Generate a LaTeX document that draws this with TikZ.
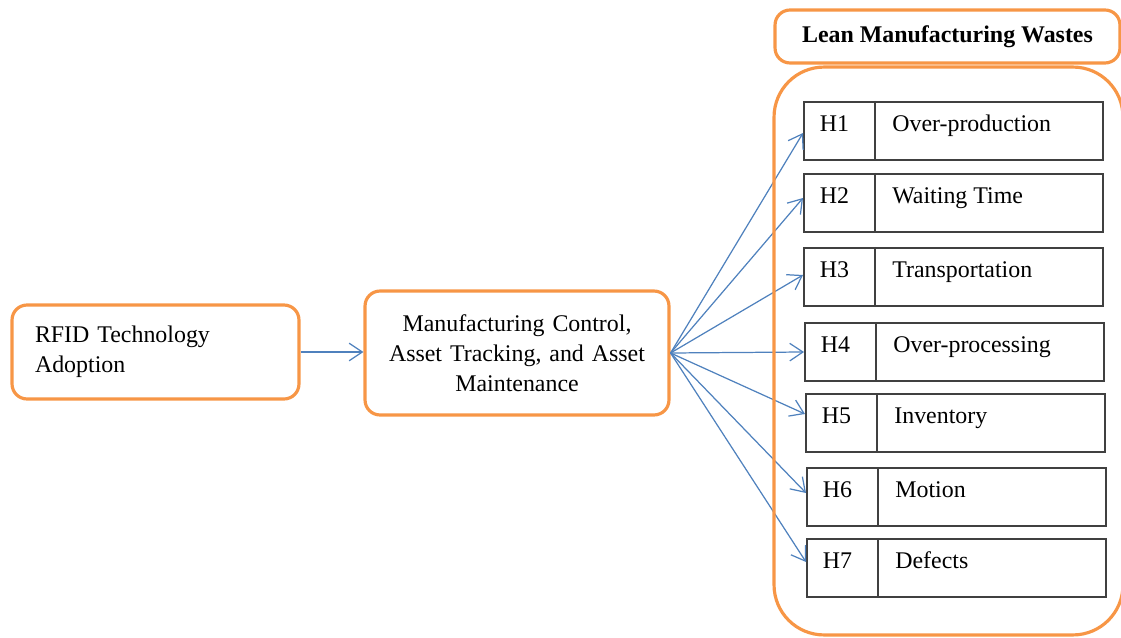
\documentclass[tikz,border=0pt]{standalone}
\usepackage{fontspec}
\setmainfont{Liberation Serif}
\usetikzlibrary{arrows.meta,calc}
\definecolor{lorange}{HTML}{F79646}
\definecolor{lblue}{HTML}{4F81BD}
\definecolor{dgray}{HTML}{404040}
\tikzset{
  obox/.style={draw=lorange, line width=1.8pt, rounded corners=0.3cm, fill=white},
  hbox/.style={draw=dgray, line width=0.9pt, minimum width=5.98cm, minimum height=1.16cm, inner sep=0pt, anchor=north west},
  conn/.style={draw=lblue, line width=0.7pt, -{Straight Barb[length=7.5pt,width=10pt]}},
  txt/.style={font=\fontsize{13.6}{17}\selectfont},
  divider/.style={draw=dgray, line width=0.9pt},
}
\begin{document}
\begin{tikzpicture}[x=0.02cm, y=-0.02cm]
\useasboundingbox (0,0) rectangle (1121,638);
\clip (0,0) rectangle (1121,638);
\node[obox, txt, text width=4.82cm, inner xsep=0.46cm, inner ysep=0pt, minimum height=1.88cm, align=left] (rfid) at (155.5,352) {RFID Technology\\Adoption};
\node[obox, txt, text width=5.5cm, inner xsep=0.29cm, inner ysep=0pt, minimum height=2.48cm, align=center] (mid) at (517,353) {Manufacturing Control,\\Asset Tracking, and Asset\\Maintenance};
\draw[conn] (rfid.east) -- (rfid.east -| mid.west);
\foreach \i/\hx/\hy/\lab/\nm/\off in {1/803/101/H1/Over-production/32, 2/803/173/H2/Waiting Time/25, 3/803/247/H3/Transportation/28, 4/804/322/H4/Over-processing/30, 5/805/393/H5/Inventory/21, 6/806/467/H6/Motion/26, 7/806/538/H7/Defects/24}{
  \node[hbox] (h\i) at (\hx,\hy) {};
  \draw[divider] ([xshift=1.44cm]h\i.north west) -- ([xshift=1.44cm]h\i.south west);
  \node[txt, anchor=base west, inner sep=0pt] (l\i) at ([xshift=0.33cm, yshift=-0.62cm]h\i.north west) {\lab};
  \node[txt, anchor=base west, inner sep=0pt] (n\i) at ([xshift=1.78cm, yshift=-0.62cm]h\i.north west) {\nm};
  \coordinate (t\i) at ([yshift=-\off*0.02cm]h\i.north west);
  \draw[conn] (mid.east) -- (t\i);
}
\node[draw=lorange, line width=1.8pt, rounded corners=1cm, minimum width=6.98cm, minimum height=11.36cm, inner sep=0pt] (group) at (948.5,351) {};
\node[obox, txt, font=\fontsize{13.6}{17}\selectfont\bfseries, minimum width=6.9cm, minimum height=1.06cm, inner sep=0pt] (title) at (947.5,36.5) {Lean Manufacturing Wastes};
\end{tikzpicture}
\end{document}
